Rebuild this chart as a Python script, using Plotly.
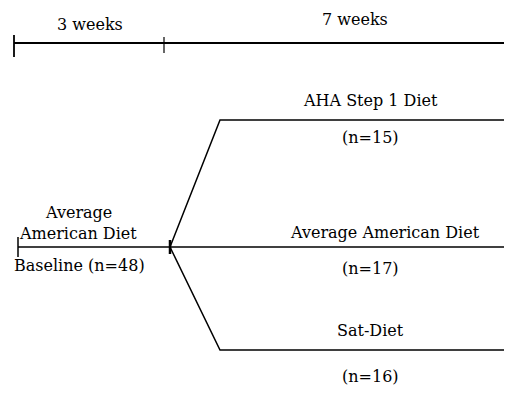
import plotly.graph_objects as go

# study timeline (weeks)
phase_labels = ["3 weeks", "7 weeks"]
phase_weeks = [3, 7]

# diet arms after randomisation
arm_names = ["AHA Step 1 Diet", "Average American Diet", "Sat-Diet"]
arm_n = [15, 17, 16]

baseline_label = ["Average", "American Diet"]
baseline_n = 48

# layout (y in px from the top of the page, x in weeks)
TIMELINE_Y = 43
BASE_Y = 247
ARM_Y = [120, 247, 350]
ARM_LABEL_Y = [100, 232, 330]
ARM_N_Y = [137, 268, 376]
ARM_LABEL_X = [7.12, 7.42, 7.12]
SPLIT_X = 3.12
CORNER_X = 4.12
END_X = 10.6
BLACK = "black"
FONT = "DejaVu Serif"

fig = go.Figure()


def seg(xs, ys, w=1.5):
    fig.add_trace(go.Scatter(x=xs, y=ys, mode="lines",
                             line=dict(color=BLACK, width=w),
                             hoverinfo="skip", showlegend=False))


def label(x, y, text):
    fig.add_annotation(x=x, y=y, text=text, showarrow=False,
                       font=dict(family=FONT, size=16, color=BLACK))


# top time bar
start = 0
ends = []
for w in phase_weeks:
    ends.append(start + w)
    start += w
seg([0, END_X], [TIMELINE_Y, TIMELINE_Y], 1.8)
seg([0, 0], [TIMELINE_Y - 8, TIMELINE_Y + 14], 1.8)
seg([ends[0], ends[0]], [TIMELINE_Y - 6, TIMELINE_Y + 10], 1.2)
label(ends[0] / 2 + 0.02, 24, phase_labels[0])
label(ends[0] + 3.82, 19, phase_labels[1])

# baseline period
seg([0.08, SPLIT_X], [BASE_Y, BASE_Y], 1.5)
seg([0.08, 0.08], [BASE_Y - 10, BASE_Y + 10], 1.5)
seg([SPLIT_X, SPLIT_X], [BASE_Y - 7, BASE_Y + 7], 2.5)
label(1.28, 212, baseline_label[0])
label(1.28, 233, baseline_label[1])
label(1.3, 265, f"Baseline (n={baseline_n})")

# arms
for name, n, ay, ly, ny, lx in zip(arm_names, arm_n, ARM_Y,
                                   ARM_LABEL_Y, ARM_N_Y, ARM_LABEL_X):
    if ay == BASE_Y:
        seg([SPLIT_X, END_X], [ay, ay])
    else:
        seg([SPLIT_X, CORNER_X, END_X], [BASE_Y, ay, ay])
    label(lx, ly, name)
    label(7.12, ny, f"(n={n})")

# page body has an 8px margin; 50 px per week, figure runs past the right edge
fig.update_layout(
    width=520, height=389, autosize=False,
    margin=dict(l=0, r=0, t=0, b=0),
    paper_bgcolor="white", plot_bgcolor="white",
    xaxis=dict(range=[-0.12, 10.28], visible=False, fixedrange=True),
    yaxis=dict(range=[397, 8], visible=False, fixedrange=True),
)

fig.write_html("out.html")
